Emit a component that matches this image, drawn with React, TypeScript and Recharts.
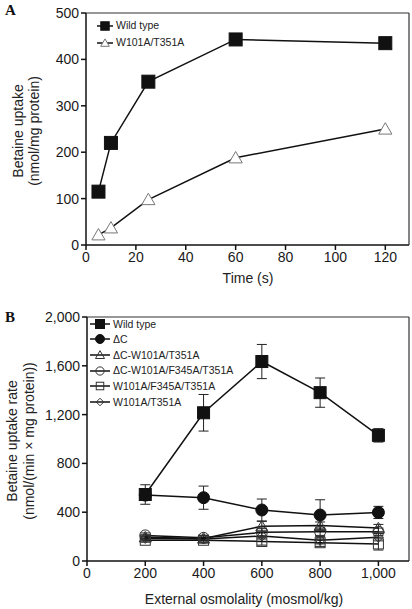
import React from 'react';
import { LineChart, Line, XAxis, YAxis, ReferenceLine, ErrorBar, Legend } from 'recharts';

// Panel A: time course of betaine uptake
const timeS = [5, 10, 25, 60, 120];
const wildTypeUptake = [115, 220, 352, 443, 435];
const w101aUptake = [22, 37, 98, 188, 250];
const timeTicks = [0, 20, 40, 60, 80, 100, 120];
const uptakeTicks = [0, 100, 200, 300, 400, 500];

// Panel B: uptake rate vs external osmolality
const osmolality = [200, 400, 600, 800, 1000];
const wildTypeRate = [545, 1215, 1635, 1380, 1030];
const wildTypeErr = [80, 150, 140, 120, 55];
const deltaCRate = [540, 519, 418, 377, 398];
const deltaCErr = [40, 95, 90, 125, 50];
const dcW101aRate = [195, 185, 285, 290, 270];
const dcW101aErr = [20, 20, 40, 30, 30];
const dcW101aF345aRate = [210, 190, 235, 240, 240];
const dcW101aF345aErr = [20, 20, 30, 30, 30];
const w101aF345aRate = [170, 170, 160, 150, 140];
const w101aF345aErr = [15, 20, 30, 30, 50];
const w101aRate = [185, 180, 205, 170, 195];
const w101aErr = [15, 15, 25, 30, 30];
const osmTicks = [0, 200, 400, 600, 800, 1000];
const rateTicks = [0, 400, 800, 1200, 1600, 2000];

const FONT = '"Liberation Sans", Arial, Helvetica, sans-serif';
const INK = '#111';

const dataA = timeS.map((t, i) => ({ t, wt: wildTypeUptake[i], mut: w101aUptake[i] }));
const dataB = osmolality.map((x, i) => ({
  x,
  wt: wildTypeRate[i], wtErr: wildTypeErr[i],
  dc: deltaCRate[i], dcErr: deltaCErr[i],
  dcW: dcW101aRate[i], dcWErr: dcW101aErr[i],
  dcWF: dcW101aF345aRate[i], dcWFErr: dcW101aF345aErr[i],
  wF: w101aF345aRate[i], wFErr: w101aF345aErr[i],
  w: w101aRate[i], wErr: w101aErr[i],
}));

type Shape = 'square' | 'circle' | 'triangle' | 'diamond';

const Marker = ({ shape, cx, cy, r, fill, stroke, sw = 1 }: any) => {
  switch (shape as Shape) {
    case 'square':
      return <rect x={cx - r} y={cy - r} width={2 * r} height={2 * r} fill={fill} stroke={stroke} strokeWidth={sw} />;
    case 'circle':
      return <circle cx={cx} cy={cy} r={r} fill={fill} stroke={stroke} strokeWidth={sw} />;
    case 'triangle':
      return (
        <polygon
          points={`${cx},${cy - r * 1.05} ${cx - r * 1.1},${cy + r * 0.85} ${cx + r * 1.1},${cy + r * 0.85}`}
          fill={fill} stroke={stroke} strokeWidth={sw}
        />
      );
    default:
      return (
        <polygon
          points={`${cx},${cy - r} ${cx + r},${cy} ${cx},${cy + r} ${cx - r},${cy}`}
          fill={fill} stroke={stroke} strokeWidth={sw}
        />
      );
  }
};

const dotFor = (s: any) => (p: any) => (
  <Marker key={`${s.key}-${p.index}`} shape={s.shape} cx={p.cx} cy={p.cy} r={s.r} fill={s.fill} stroke={s.stroke} sw={s.sw} />
);

const seriesA = [
  { key: 'wt', name: 'Wild type', shape: 'square', r: 6.5, fill: INK, stroke: INK, sw: 1 },
  { key: 'mut', name: 'W101A/T351A', shape: 'triangle', r: 6, fill: '#fff', stroke: '#777', sw: 1 },
];

const seriesB = [
  { key: 'wt', name: 'Wild type', shape: 'square', r: 6, fill: INK, stroke: INK, sw: 1 },
  { key: 'dc', name: '\u0394C', shape: 'circle', r: 6, fill: INK, stroke: INK, sw: 1 },
  { key: 'dcW', name: '\u0394C-W101A/T351A', shape: 'triangle', r: 5.5, fill: 'none', stroke: '#333', sw: 1 },
  { key: 'dcWF', name: '\u0394C-W101A/F345A/T351A', shape: 'circle', r: 5.5, fill: 'none', stroke: '#333', sw: 1 },
  { key: 'wF', name: 'W101A/F345A/T351A', shape: 'square', r: 5, fill: 'none', stroke: '#333', sw: 1 },
  { key: 'w', name: 'W101A/T351A', shape: 'diamond', r: 5, fill: 'none', stroke: '#333', sw: 1 },
];

const LegendBox = ({ series, rowH, lineW, markScale }: any) => (
  <div style={{ fontFamily: FONT, fontSize: 10.5, color: '#222', lineHeight: 1 }}>
    {series.map((s: any) => (
      <div key={s.key} style={{ display: 'flex', alignItems: 'center', height: rowH }}>
        <svg width={lineW} height={12} style={{ display: 'block' }}>
          <line x1={0} y1={6} x2={lineW} y2={6} stroke={INK} strokeWidth={1.5} />
          <Marker shape={s.shape} cx={lineW / 2} cy={6} r={s.r * markScale} fill={s.fill} stroke={s.stroke} sw={s.sw} />
        </svg>
        <span style={{ marginLeft: 3 }}>{s.name}</span>
      </div>
    ))}
  </div>
);

const YTitle = ({ px, py, first, second, gap }: any) => (
  <g fontFamily={FONT} fontSize={14} fill="#222">
    <text transform={`translate(${px},${py}) rotate(-90)`} textAnchor="middle" dominantBaseline="central">{first}</text>
    <text transform={`translate(${px + gap},${py}) rotate(-90)`} textAnchor="middle" dominantBaseline="central">{second}</text>
  </g>
);

const XTitle = ({ px, py, text }: any) => (
  <text x={px} y={py} textAnchor="middle" fontFamily={FONT} fontSize={14} fill="#222">{text}</text>
);

const tickStyle = { fill: '#1a1a1a', fontSize: 14, fontFamily: FONT };
const panelLetter: React.CSSProperties = {
  position: 'absolute', left: 5, fontFamily: '"Liberation Serif", serif', fontWeight: 'bold', fontSize: 15, color: '#111',
};

export default function App() {
  return (
    <div style={{ position: 'absolute', left: 0, top: 0, width: 412, height: 609, background: '#fff' }}>
      <div style={{ position: 'absolute', left: 0, top: 0 }}>
        <LineChart width={412} height={300} data={dataA} margin={{ top: 13, right: 3, left: 0, bottom: 0 }}>
          <XAxis
            dataKey="t" type="number" domain={[0, 129.5]} ticks={timeTicks} height={55}
            stroke={INK} strokeWidth={1.5} tickSize={5} tickMargin={2} tick={tickStyle}
            label={<XTitle px={248} py={283} text="Time (s)" />}
          />
          <YAxis
            type="number" domain={[0, 500]} ticks={uptakeTicks} width={86}
            stroke={INK} strokeWidth={1.5} tickSize={5} tickMargin={2} tick={tickStyle}
            label={<YTitle px={18} py={131} gap={16} first="Betaine uptake" second="(nmol/mg protein)" />}
          />
          <ReferenceLine y={500} stroke="#333" strokeWidth={1.2} />
          <ReferenceLine x={129.5} stroke="#333" strokeWidth={1.2} />
          {seriesA.map((s) => (
            <Line
              key={s.key} dataKey={s.key} name={s.name} stroke={INK} strokeWidth={1.5}
              dot={dotFor(s)} activeDot={false} isAnimationActive={false}
            />
          ))}
          <Legend
            layout="vertical" align="center" verticalAlign="middle"
            wrapperStyle={{ top: 17, left: 97, width: 'auto' }}
            content={() => <LegendBox series={seriesA} rowH={17} lineW={16} markScale={0.65} />}
          />
        </LineChart>
        <span style={{ ...panelLetter, top: 2 }}>A</span>
      </div>

      <div style={{ position: 'absolute', left: 0, top: 300 }}>
        <LineChart width={412} height={309} data={dataB} margin={{ top: 17, right: 3, left: 0, bottom: 0 }}>
          <XAxis
            dataKey="x" type="number" domain={[0, 1105]} ticks={osmTicks} height={48}
            stroke={INK} strokeWidth={1.5} tickSize={5} tickMargin={2}
            tick={tickStyle} tickFormatter={(v: number) => v.toLocaleString('en-US')}
            label={<XTitle px={244} py={304} text="External osmolality (mosmol/kg)" />}
          />
          <YAxis
            type="number" domain={[0, 2000]} ticks={rateTicks} width={87}
            stroke={INK} strokeWidth={1.5} tickSize={5} tickMargin={2}
            tick={tickStyle} tickFormatter={(v: number) => v.toLocaleString('en-US')}
            label={<YTitle px={12} py={141} gap={17} first="Betaine uptake rate" second={'(nmol/(min \u00d7 mg protein))'} />}
          />
          <ReferenceLine y={2000} stroke="#333" strokeWidth={1.2} />
          <ReferenceLine x={1105} stroke="#333" strokeWidth={1.2} />
          {[...seriesB].reverse().map((s) => (
            <Line
              key={s.key} dataKey={s.key} name={s.name} stroke={INK} strokeWidth={1.5}
              dot={dotFor(s)} activeDot={false} isAnimationActive={false}
            >
              <ErrorBar dataKey={`${s.key}Err`} direction="y" width={5} stroke="#222" strokeWidth={1} />
            </Line>
          ))}
          <Legend
            layout="vertical" align="center" verticalAlign="middle"
            wrapperStyle={{ top: 16, left: 90, width: 'auto' }}
            content={() => <LegendBox series={seriesB} rowH={15.6} lineW={20} markScale={0.75} />}
          />
        </LineChart>
        <span style={{ ...panelLetter, top: 309 - 300 }}>B</span>
      </div>
    </div>
  );
}
